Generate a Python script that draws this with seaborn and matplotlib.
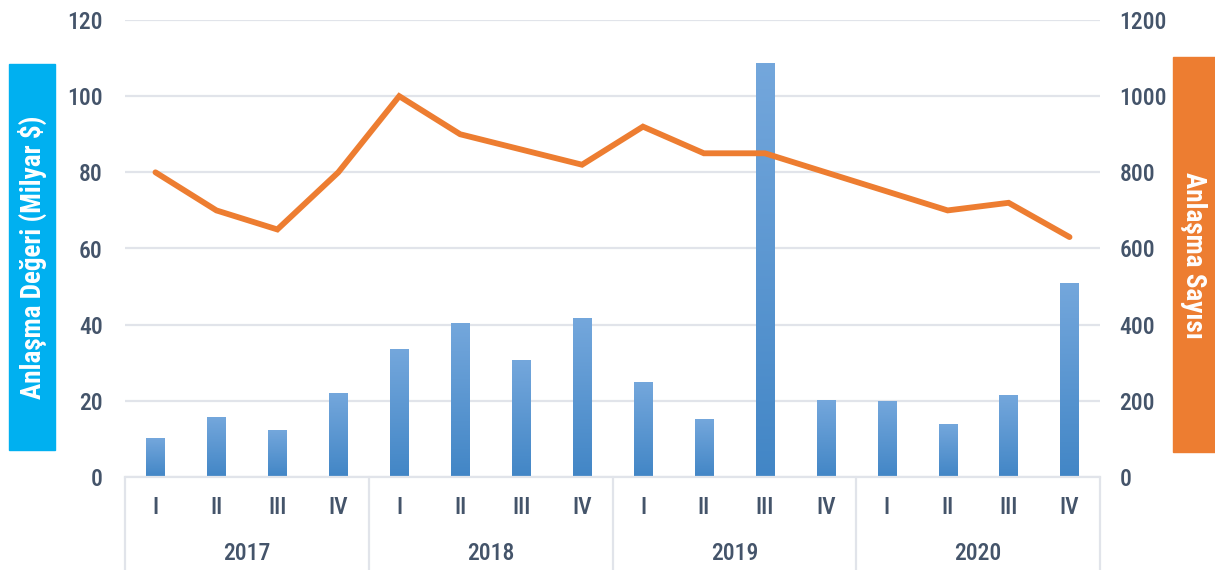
import numpy as np
import pandas as pd
import matplotlib
matplotlib.use("Agg")
import matplotlib.pyplot as plt
import matplotlib.transforms as mtransforms
import seaborn as sns

# --- data ---
years = ["2017", "2018", "2019", "2020"]
quarters = ["I", "II", "III", "IV"]
deal_value = [10.0, 15.5, 12.1, 21.8,
              33.6, 40.4, 30.5, 41.5,
              24.9, 15.0, 108.5, 20.0,
              19.7, 13.7, 21.3, 50.7]
deal_count = [800, 700, 650, 800,
              1000, 900, 860, 820,
              920, 850, 850, 800,
              750, 700, 720, 630]

df = pd.DataFrame({
    "period": [f"{y} {q}" for y in years for q in quarters],
    "quarter": quarters * len(years),
    "value": deal_value,
    "count": deal_count,
})
df["pos"] = np.arange(len(df))

sns.set_style("white")
plt.rcParams['font.family'] = ['Roboto Condensed', 'DejaVu Sans']
plt.rcParams['font.stretch'] = 'condensed'
plt.rcParams['font.weight'] = 'medium'

text_col = "#44546a"
grid_col = "#e1e4ea"
bar_top = np.array([0x74, 0xa7, 0xdc]) / 255
bar_bot = np.array([0x42, 0x86, 0xc6]) / 255

fig = plt.figure(figsize=(12.15, 5.7), dpi=100)
ax = fig.add_axes([125 / 1215, 93 / 570, 975 / 1215, 457 / 570])

sns.barplot(data=df, x="period", y="value", color="#5b9bd5", width=0.3,
            saturation=1, ax=ax, zorder=2)

# vertical gradient on each bar
grad = np.linspace(0, 1, 256)[:, None]
cols = bar_top[None, None, :] * (1 - grad[..., None]) + bar_bot[None, None, :] * grad[..., None]
for p in ax.patches:
    x0, y0 = p.get_x(), p.get_y()
    w, h = p.get_width(), p.get_height()
    ax.imshow(np.repeat(cols, 2, axis=1), extent=[x0, x0 + w, y0, y0 + h],
              aspect="auto", zorder=2.5, origin="upper")
    p.set_alpha(0)

ax.set_xlim(-0.5, 15.5)
ax.set_ylim(0, 120)
ax.set_yticks(range(0, 121, 20))
ax.yaxis.grid(True, color=grid_col, lw=1.6, zorder=0)
ax.set_axisbelow(True)
ax.set_xticks([])
ax.set_xlabel("")
ax.set_ylabel("")
for s in ["top", "right", "left"]:
    ax.spines[s].set_visible(False)
ax.spines["bottom"].set_color(grid_col)
ax.spines["bottom"].set_linewidth(1.6)
ax.tick_params(axis="y", length=0, pad=16, labelsize=17, labelcolor=text_col)

ax2 = ax.twinx()
sns.lineplot(data=df, x="pos", y="count", color="#ed7d31", lw=4.2, ax=ax2,
             solid_joinstyle="miter", solid_capstyle="round")
ax2.set_ylim(0, 1200)
ax2.set_yticks(range(0, 1201, 200))
ax2.set_xlim(-0.5, 15.5)
ax2.set_ylabel("")
ax2.set_xlabel("")
for s in ax2.spines.values():
    s.set_visible(False)
ax2.tick_params(axis="y", length=0, pad=14, labelsize=17, labelcolor=text_col)

# category axis: quarters and years with separators
trans = mtransforms.blended_transform_factory(ax.transData, ax.transAxes)
for i, q in enumerate(df["quarter"]):
    ax.text(i, -31 / 457, q, transform=trans, ha="center", va="center",
            fontsize=17, color=text_col)
for k, y in enumerate(years):
    ax.text(4 * k + 1.5, -76 / 457, y, transform=trans, ha="center", va="center",
            fontsize=17, color=text_col)
for b in [-0.5, 3.5, 7.5, 11.5, 15.5]:
    ax.plot([b, b], [0, -0.25], transform=trans, color=grid_col, lw=1.6,
            clip_on=False)

# coloured axis title boxes
fig.patches.append(plt.Rectangle((9 / 1215, (570 - 450) / 570), 46 / 1215, 386 / 570,
                                 transform=fig.transFigure, color="#00b0f0"))
fig.text(32 / 1215, 1 - 257 / 570, "Anlaşma Değeri (Milyar $)", rotation=90,
         ha="center", va="center", color="white", fontsize=19.5, fontweight="bold")
fig.patches.append(plt.Rectangle((1173 / 1215, (570 - 452) / 570), 42 / 1215, 395 / 570,
                                 transform=fig.transFigure, color="#ed7d31"))
fig.text(1193 / 1215, 1 - 255 / 570, "Anlaşma Sayısı", rotation=-90,
         ha="center", va="center", color="white", fontsize=19.5, fontweight="bold")

fig.savefig("out.png", dpi=100)
